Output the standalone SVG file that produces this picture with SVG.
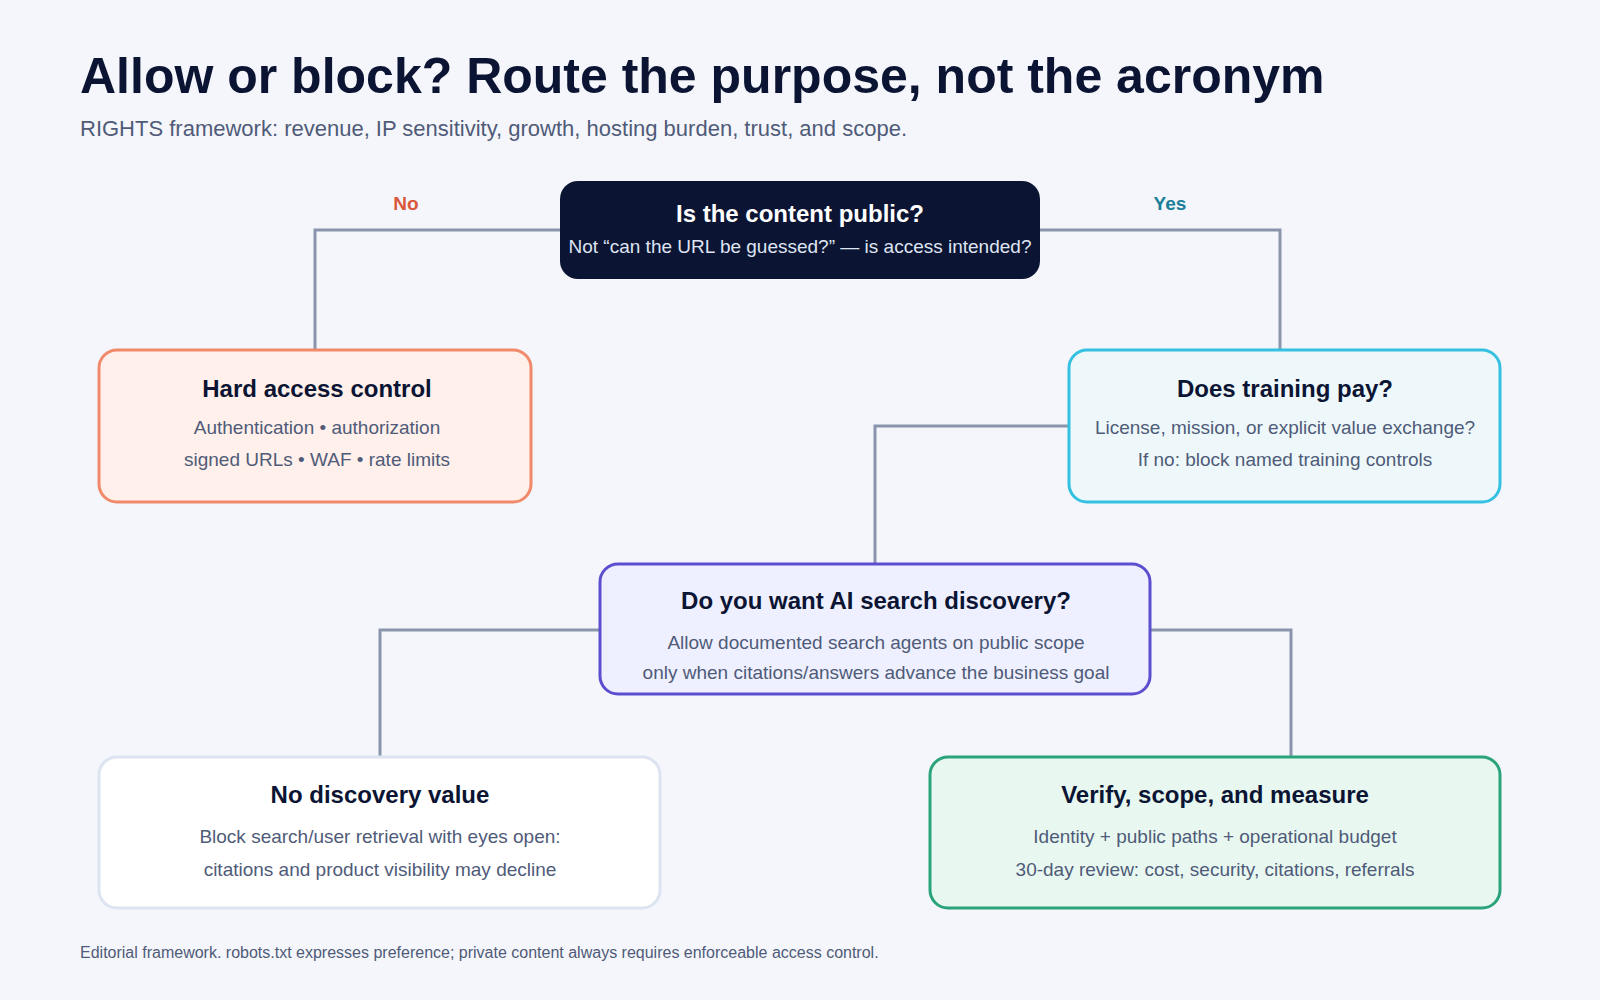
<svg xmlns="http://www.w3.org/2000/svg" width="1600" height="1000" viewBox="0 0 1600 1000">
<style>
text{font-family:"Liberation Sans",Arial,sans-serif}
.t{font-size:24px;font-weight:bold;fill:#0b1533;text-anchor:middle}
.s{font-size:19px;fill:#4f5b78;text-anchor:middle}
.c{fill:none;stroke:#8a95ad;stroke-width:3}
</style>
<rect width="1600" height="1000" fill="#f5f6fb"/>
<text x="80" y="93" font-size="50" font-weight="bold" fill="#0b1533">Allow or block? Route the purpose, not the acronym</text>
<text x="80" y="136" font-size="22" fill="#4f5b78">RIGHTS framework: revenue, IP sensitivity, growth, hosting burden, trust, and scope.</text>
<g id="connectors">
<path class="c" d="M560 230H315V350"/>
<path class="c" d="M1040 230H1280V350"/>
<path class="c" d="M1069 426H875V564"/>
<path class="c" d="M600 630H380V757"/>
<path class="c" d="M1150 630H1291V757"/>
<text x="406" y="210" font-size="19" font-weight="bold" fill="#d9573b" text-anchor="middle">No</text>
<text x="1170" y="210" font-size="19" font-weight="bold" fill="#1a7f99" text-anchor="middle">Yes</text>
</g>
<g id="public">
<rect x="560" y="181" width="480" height="98" rx="18" fill="#0b1533"/>
<text class="t" x="800" y="222" fill="#fff" style="fill:#fff">Is the content public?</text>
<text class="s" x="800" y="253" style="fill:#dfe4f2">Not “can the URL be guessed?” — is access intended?</text>
</g>
<g id="hard">
<rect x="99" y="350" width="432" height="152" rx="18" fill="#fff0eb" stroke="#f08a6b" stroke-width="3"/>
<text class="t" x="317" y="397">Hard access control</text>
<text class="s" x="317" y="434">Authentication • authorization</text>
<text class="s" x="317" y="466">signed URLs • WAF • rate limits</text>
</g>
<g id="training">
<rect x="1069" y="350" width="431" height="152" rx="18" fill="#eef8fa" stroke="#34c0e0" stroke-width="3"/>
<text class="t" x="1285" y="397">Does training pay?</text>
<text class="s" x="1285" y="434">License, mission, or explicit value exchange?</text>
<text class="s" x="1285" y="466">If no: block named training controls</text>
</g>
<g id="search">
<rect x="600" y="564" width="550" height="130" rx="18" fill="#eef0ff" stroke="#5b4fd0" stroke-width="3"/>
<text class="t" x="876" y="609">Do you want AI search discovery?</text>
<text class="s" x="876" y="649">Allow documented search agents on public scope</text>
<text class="s" x="876" y="679">only when citations/answers advance the business goal</text>
</g>
<g id="nodisc">
<rect x="99" y="757" width="561" height="151" rx="18" fill="#ffffff" stroke="#dde3f0" stroke-width="3"/>
<text class="t" x="380" y="803">No discovery value</text>
<text class="s" x="380" y="843">Block search/user retrieval with eyes open:</text>
<text class="s" x="380" y="876">citations and product visibility may decline</text>
</g>
<g id="verify">
<rect x="930" y="757" width="570" height="151" rx="18" fill="#e8f8f1" stroke="#2aa37a" stroke-width="3"/>
<text class="t" x="1215" y="803">Verify, scope, and measure</text>
<text class="s" x="1215" y="843">Identity + public paths + operational budget</text>
<text class="s" x="1215" y="876">30-day review: cost, security, citations, referrals</text>
</g>
<text x="80" y="958" font-size="16" fill="#4f5b78">Editorial framework. robots.txt expresses preference; private content always requires enforceable access control.</text>
</svg>
